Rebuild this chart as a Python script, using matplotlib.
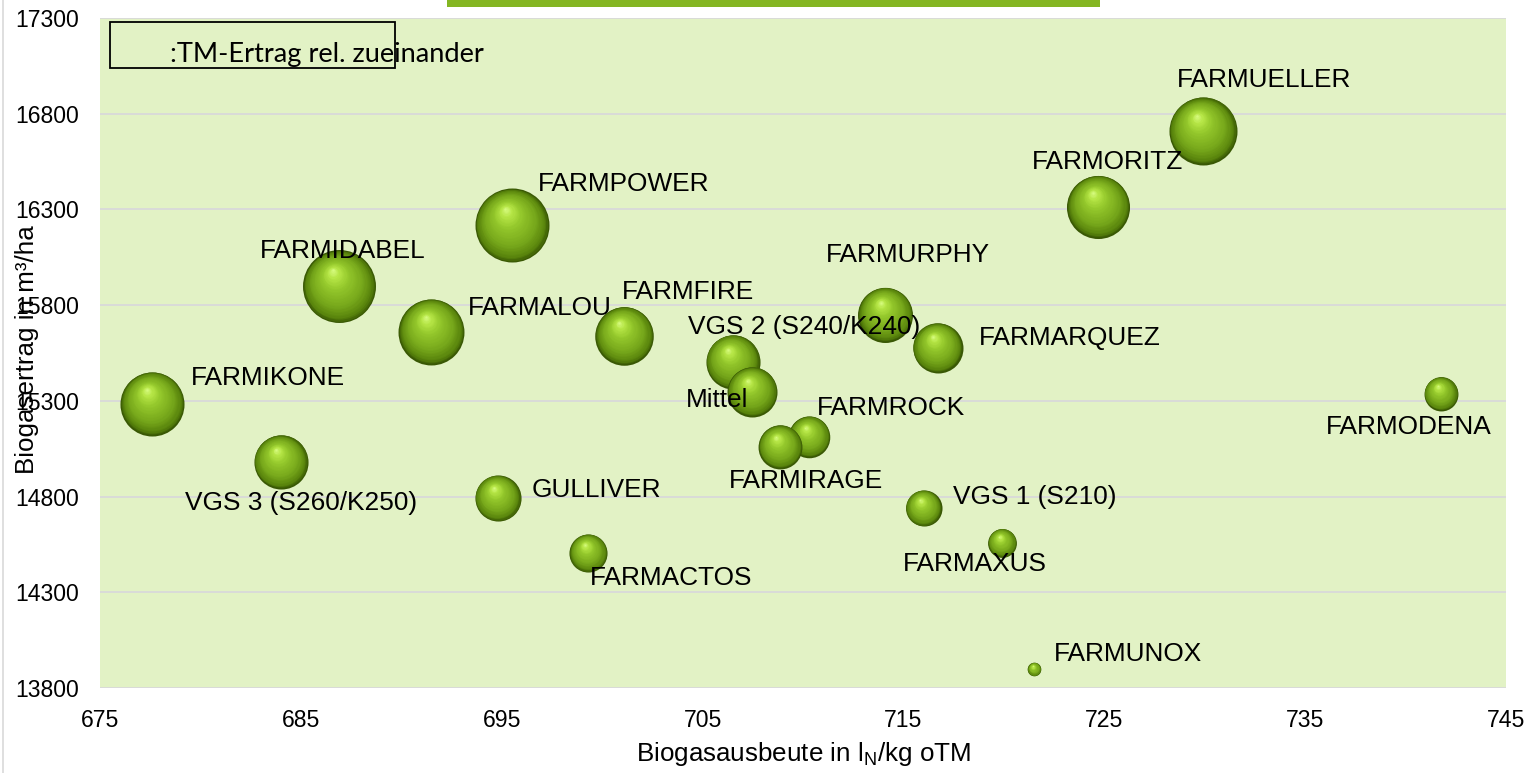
import numpy as np
import matplotlib
matplotlib.use("Agg")
import matplotlib.pyplot as plt
from matplotlib.colors import to_rgb
from matplotlib.patches import Rectangle
from matplotlib.lines import Line2D

plt.rcParams['font.family'] = ['Liberation Sans', 'DejaVu Sans']
plt.rcParams['mathtext.fontset'] = 'custom'
plt.rcParams['mathtext.rm'] = 'Liberation Sans'

# ---------------- data ----------------
names = ["FARMUELLER", "FARMORITZ", "FARMPOWER", "FARMIDABEL", "FARMALOU",
         "FARMIKONE", "VGS 3 (S260/K250)", "GULLIVER", "FARMACTOS", "FARMFIRE",
         "VGS 2 (S240/K240)", "Mittel", "FARMROCK", "FARMIRAGE", "FARMURPHY",
         "FARMARQUEZ", "VGS 1 (S210)", "FARMAXUS", "FARMUNOX", "FARMODENA"]
biogasausbeute = [729.9, 724.7, 695.5, 686.9, 691.5,
                  677.6, 684.0, 694.8, 699.3, 701.1,
                  706.5, 707.45, 710.3, 708.85, 714.1,
                  716.7, 716.0, 719.9, 721.5, 741.75]
biogasertrag = [16710, 16315, 16217, 15898, 15662,
                15285, 14982, 14793, 14506, 15641,
                15505, 15348, 15113, 15060, 15751,
                15578, 14741, 14558, 13899, 15338]
tm_rel = [185, 159, 219, 213, 174,
          164, 117, 85, 58, 137,
          117, 100, 69, 77, 121,
          100, 52, 33, 7.4, 46]

x_ticks = [675, 685, 695, 705, 715, 725, 735, 745]
y_ticks = [13800, 14300, 14800, 15300, 15800, 16300, 16800, 17300]

# label placement (pixel offsets of text left edge / vertical centre from bubble centre)
label_offsets = [(-26, 51), (-66, 45), (26, 41), (-79, 35), (36, 24),
                 (39, 26), (-96, -41), (34, 8), (2, -25), (-2, 44),
                 (-45, 35), (-66, -8), (8, 29), (-51, -34), (-59, 60),
                 (41, 10), (29, 11), (-99, -21), (20, 15), (-115, -33)]

# ---------------- figure ----------------
W, H, DPI = 1530, 773, 100
fig = plt.figure(figsize=(W / DPI, H / DPI), dpi=DPI)
fig.patch.set_facecolor("white")
L, R, T, B = 100, 1506, 18, 688
ax = fig.add_axes([L / W, 1 - B / H, (R - L) / W, (B - T) / H])
ax.set_xlim(675, 745)
ax.set_ylim(13800, 17300)
ax.set_facecolor("#e2f2c5")
for s in ax.spines.values():
    s.set_visible(False)
ax.set_xticks(x_ticks)
ax.set_yticks(y_ticks)
ax.tick_params(axis="both", length=0, labelsize=16.6, colors="black")
ax.tick_params(axis="y", pad=15)
ax.tick_params(axis="x", pad=15)
ax.yaxis.grid(True, color="#d9d9d9", lw=1.3)
ax.xaxis.grid(False)
ax.set_axisbelow(True)

# ---------------- spheres ----------------
stops = [(0.0, "#395804"), (0.08, "#58830c"), (0.30, "#77a81b"),
         (0.62, "#93c72b"), (0.84, "#b6e646"), (1.0, "#dcff8a")]
stop_t = np.array([s[0] for s in stops])
stop_c = np.array([to_rgb(s[1]) for s in stops])


def grad_color(t):
    return [np.interp(t, stop_t, stop_c[:, i]) for i in range(3)]


def radius_px(v):
    return 25.0 * np.sqrt(v / 100.0)


NL = 32
z = 10
to_disp = ax.transData
to_data = ax.transData.inverted()
for xi, yi, v in zip(biogasausbeute, biogasertrag, tm_rel):
    Rp = radius_px(v)
    cx, cy = to_disp.transform((xi, yi))
    hx, hy = -0.18 * Rp, 0.45 * Rp
    for k in range(NL):
        t = k / NL
        r = Rp * (1 - t)
        px, py = cx + t * hx, cy + t * hy
        dx, dy = to_data.transform((px, py))
        ax.scatter([dx], [dy], s=(2 * r * 72 / DPI) ** 2, color=[grad_color(t)],
                   linewidths=0, zorder=z)
        z += 1

# ---------------- labels ----------------
for name, xi, yi, off in zip(names, biogasausbeute, biogasertrag, label_offsets):
    ax.annotate(name, xy=(xi, yi), xytext=off, textcoords="offset pixels",
                ha="left", va="center", fontsize=18.9, color="black", zorder=5000)

# axis titles
fig.text(803 / W, 1 - 754 / H, r"Biogasausbeute in l$_\mathregular{N}$/kg oTM",
         ha="center", va="center", fontsize=18.7)
fig.text(27 / W, 1 - 350 / H, "Biogasertrag in m³/ha", rotation=90,
         ha="center", va="center", fontsize=18.7)

# legend-like box
fig.add_artist(Rectangle((110 / W, 1 - 68 / H), 285 / W, 46 / H,
                         transform=fig.transFigure, fill=False, ec="black", lw=1.3))
fig.text(170 / W, 1 - 62 / H, ":TM-Ertrag rel. zueinander", va="baseline",
         ha="left", fontsize=19.6, family=["Lato", "DejaVu Sans"])

# green title bar at top
fig.add_artist(Rectangle((447 / W, 1 - 7 / H), 653 / W, 7 / H,
                         transform=fig.transFigure, fc="#84b622", ec="none"))
# faint chart border at left
fig.add_artist(Line2D([3 / W, 3 / W], [0, 1], transform=fig.transFigure,
                      color="#d9d9d9", lw=1.2))

fig.savefig("out.png", dpi=DPI, facecolor="white")
